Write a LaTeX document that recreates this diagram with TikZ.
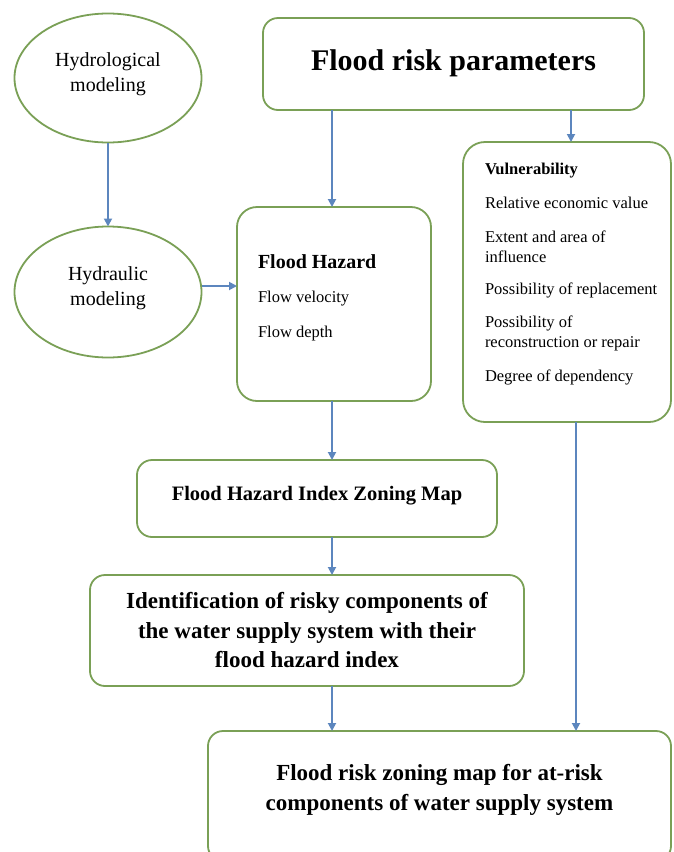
\documentclass[tikz,border=0pt]{standalone}
\usepackage{fontspec}
\setmainfont{Liberation Serif}
\usetikzlibrary{shapes.geometric,arrows.meta}
\definecolor{boxgreen}{RGB}{122,160,86}
\definecolor{arrowblue}{RGB}{92,134,190}
\begin{document}
\begin{tikzpicture}[x=1pt,y=-1pt,
  every node/.style={inner sep=0pt,outer sep=0pt},
  oval/.style={ellipse,draw=boxgreen,line width=1.8pt,align=center,font=\fontsize{20}{25}\selectfont},
  rbox/.style={draw=boxgreen,line width=1.8pt,rounded corners=15pt,align=center},
  item/.style={anchor=west,align=left,font=\fontsize{16.5}{20}\selectfont},
  conn/.style={draw=arrowblue,line width=1.8pt,-{Triangle[length=8pt,width=8pt]}}]
\useasboundingbox (0,0) rectangle (673,852);
\fill[white] (0,0) rectangle (673,852);

% ellipses
\node[oval,minimum width=187pt,minimum height=129pt] (hydro) at (108,78) {Hydrological\\modeling\\[-13pt]};
\node[oval,minimum width=187pt,minimum height=131pt] (hydra) at (108,292) {Hydraulic\\modeling\\[-13pt]};

% boxes
\node[rbox,minimum width=381pt,minimum height=92pt,font=\bfseries\fontsize{30}{36}\selectfont] (frp) at (453.5,64) {Flood risk parameters\\[-28pt]};
\node[rbox,minimum width=194pt,minimum height=194pt,rounded corners=20pt] (hazard) at (334,304) {};
\node[rbox,minimum width=208pt,minimum height=280pt,rounded corners=22pt] (vuln) at (567,282) {};
\node[rbox,minimum width=360pt,minimum height=77pt,font=\bfseries\fontsize{20.5}{25}\selectfont] (fhizm) at (317,498.5) {Flood Hazard Index Zoning Map\\[-14pt]};
\node[rbox,minimum width=434pt,minimum height=111pt,font=\bfseries\fontsize{23}{29.5}\selectfont] (ident) at (307,630.5) {Identification of risky components of\\the water supply system with their\\flood hazard index};
\node[rbox,minimum width=463pt,minimum height=130pt,font=\bfseries\fontsize{23}{30}\selectfont] (final) at (439.5,796) {Flood risk zoning map for at-risk\\components of water supply system\\[-12pt]};

% hazard text
\node[item,font=\bfseries\fontsize{20}{24}\selectfont] (hzt) at (258,262) {Flood Hazard};
\node[item] (hz1) at (258,299) {Flow velocity};
\node[item] (hz2) at (258,334) {Flow depth};

% vulnerability text
\node[item,font=\bfseries\fontsize{16.5}{20}\selectfont] (vt) at (485,171) {Vulnerability};
\node[item] (v1) at (485,203) {Relative economic value};
\node[item] (v2) at (485,247) {Extent and area of\\influence};
\node[item] (v3) at (485,290) {Possibility of replacement};
\node[item] (v4) at (485,333) {Possibility of\\reconstruction or repair};
\node[item] (v5) at (485,377) {Degree of dependency};

% connectors
\draw[conn] (hydro.south) -- (hydra.north);
\draw[conn] ([yshift=6pt]hydra.east) -- ([yshift=6pt]hydra.east -| hazard.west);
\draw[conn] ([xshift=-2pt]hazard.north |- frp.south) -- ([xshift=-2pt]hazard.north);
\draw[conn] ([xshift=4pt]vuln.north |- frp.south) -- ([xshift=4pt]vuln.north);
\draw[conn] ([xshift=-2pt]hazard.south) -- ([xshift=-2pt]hazard.south |- fhizm.north);
\draw[conn] ([xshift=-2pt]hazard.south |- fhizm.south) -- ([xshift=-2pt]hazard.south |- ident.north);
\draw[conn] ([xshift=-2pt]hazard.south |- ident.south) -- ([xshift=-2pt]hazard.south |- final.north);
\draw[conn] ([xshift=9pt]vuln.south) -- ([xshift=9pt]vuln.south |- final.north);
\end{tikzpicture}
\end{document}
